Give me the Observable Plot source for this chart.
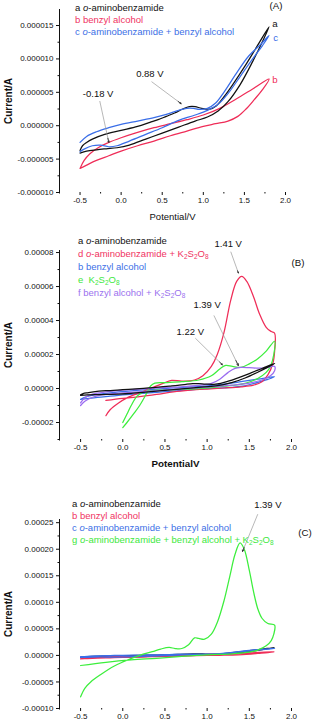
<!DOCTYPE html>
<html><head><meta charset="utf-8">
<script src="https://cdn.jsdelivr.net/npm/d3@7"></script>
<script src="https://cdn.jsdelivr.net/npm/@observablehq/plot@0.6"></script>
<style>
body{margin:0;background:#fff;}
#wrap{position:relative;width:315px;height:728px;overflow:hidden;font-family:"Liberation Sans",Arial,sans-serif;}
.panel{position:absolute;left:0;}
.leg{position:absolute;font-size:9.5px;white-space:nowrap;}
.leg div{height:12px;line-height:12px;}
.leg sub{font-size:6.5px;vertical-align:-1.5px;line-height:0;}
.tag{position:absolute;font-size:9.7px;transform:translate(-50%,-50%);color:#111;}
</style></head>
<body><div id="wrap">
<div class="panel" id="pA" style="top:0"></div>
<div class="panel" id="pB" style="top:232px"></div>
<div class="panel" id="pC" style="top:475px"></div>
<div class="leg" style="left:75px;top:2px">
  <div style="color:#111">a <i>o</i>-aminobenzamide</div>
  <div style="color:#f0335f">b benzyl alcohol</div>
  <div style="color:#3c6fe6">c <i>o</i>-aminobenzamide + benzyl alcohol</div>
</div>
<div class="tag" style="left:276px;top:5px">(A)</div>
<div class="leg" style="left:78px;top:234px">
  <div style="color:#111;height:13px;line-height:13px">a <i>o</i>-aminobenzamide</div>
  <div style="color:#f0335f;height:13px;line-height:13px">d <i>o</i>-aminobenzamide + K<sub>2</sub>S<sub>2</sub>O<sub>8</sub></div>
  <div style="color:#3c6fe6;height:13px;line-height:13px">b benzyl alcohol</div>
  <div style="color:#3ee83e;height:13px;line-height:13px">e&nbsp; K<sub>2</sub>S<sub>2</sub>O<sub>8</sub></div>
  <div style="color:#9b72ee;height:13px;line-height:13px">f benzyl alcohol + K<sub>2</sub>S<sub>2</sub>O<sub>8</sub></div>
</div>
<div class="tag" style="left:298px;top:262px">(B)</div>
<div class="leg" style="left:72px;top:498px">
  <div style="color:#111">a <i>o</i>-aminobenzamide</div>
  <div style="color:#f0335f">b benzyl alcohol</div>
  <div style="color:#3c6fe6">c <i>o</i>-aminobenzamide + benzyl alcohol</div>
  <div style="color:#3ee83e">g <i>o</i>-aminobenzamide + benzyl alcohol + K<sub>2</sub>S<sub>2</sub>O<sub>8</sub></div>
</div>
<div class="tag" style="left:305px;top:532px">(C)</div>
</div>
<script>
// ---- data: [potential V, current µA] along the scan ----
const curveA = [ // o-aminobenzamide
[-0.5,-3.7],[-0.47,-3.0],[-0.42,-2.5],[-0.35,-2.0],[-0.2,-1.3],[0.0,-0.7],[0.2,-0.1],[0.35,0.5],[0.45,0.9],[0.55,1.4],[0.65,1.9],[0.75,2.5],[0.83,2.85],[0.9,2.85],[0.98,2.6],[1.08,2.5],[1.16,3.0],[1.25,4.3],[1.35,6.0],[1.5,8.8],[1.65,11.8],[1.8,14.8],
[1.72,12.6],[1.6,9.6],[1.45,6.2],[1.3,3.6],[1.18,2.2],[1.05,1.3],[0.9,0.7],[0.7,-0.2],[0.5,-1.1],[0.3,-2.0],[0.1,-2.9],[-0.05,-3.3],[-0.18,-3.45],[-0.3,-3.6],[-0.42,-3.8],[-0.5,-4.1]];
const curveB = [ // benzyl alcohol
[-0.5,-6.4],[-0.45,-5.2],[-0.38,-4.2],[-0.28,-3.3],[-0.15,-2.5],[0.0,-1.8],[0.2,-1.0],[0.4,-0.3],[0.6,0.3],[0.8,0.9],[1.0,1.6],[1.2,2.6],[1.4,4.0],[1.6,5.5],[1.8,7.0],
[1.72,5.4],[1.62,3.9],[1.52,2.5],[1.42,1.4],[1.3,0.7],[1.15,0.3],[1.0,-0.1],[0.8,-0.8],[0.6,-1.5],[0.4,-2.3],[0.2,-3.0],[0.0,-3.8],[-0.15,-4.5],[-0.3,-5.2],[-0.42,-5.9],[-0.5,-6.4]];
const curveC = [ // o-aminobenzamide + benzyl alcohol
[-0.5,-2.5],[-0.42,-1.6],[-0.3,-0.9],[-0.15,-0.3],[0.0,0.2],[0.2,0.7],[0.4,1.2],[0.55,1.7],[0.7,2.3],[0.8,2.6],[0.88,2.6],[0.95,2.45],[1.05,2.6],[1.15,3.4],[1.25,5.0],[1.4,7.8],[1.55,10.4],[1.7,12.2],[1.8,13.5],
[1.72,12.0],[1.6,10.0],[1.45,7.4],[1.3,4.8],[1.18,3.2],[1.05,2.3],[0.9,1.6],[0.7,0.8],[0.5,-0.3],[0.3,-1.3],[0.1,-2.3],[-0.05,-3.0],[-0.15,-3.15],[-0.25,-2.9],[-0.35,-3.0],[-0.45,-3.5],[-0.5,-3.9]];
const curveD = [ // o-aminobenzamide + K2S2O8
[-0.2,-16],[-0.15,-12.5],[-0.05,-8.5],[0.05,-5.5],[0.2,-2.5],[0.35,0.5],[0.5,3.5],[0.58,4.8],[0.7,4.3],[0.85,5.0],[0.95,7.5],[1.05,13],[1.12,20],[1.2,33],[1.28,52],[1.35,63],[1.41,66],[1.47,63],[1.55,54],[1.62,44],[1.7,36],[1.76,33.5],[1.8,32.5],
[1.8,22],[1.78,15],[1.72,8],[1.65,4],[1.55,2],[1.4,1.0],[1.2,0.3],[1.0,-0.3],[0.8,-1.0],[0.6,-2.0],[0.4,-3.5],[0.2,-4.8],[0.0,-5.8],[-0.2,-7.0]];
const curveE = [ // K2S2O8
[0.0,-23],[0.05,-20],[0.13,-14.8],[0.2,-10],[0.27,-4],[0.33,1.5],[0.38,3.2],[0.5,3.5],[0.7,4],[0.9,5],[1.05,7.5],[1.15,11.5],[1.22,13.6],[1.3,13.0],[1.4,12.5],[1.5,14.5],[1.6,17.5],[1.7,22],[1.8,27.8],
[1.79,20],[1.75,13],[1.7,9.5],[1.6,5.9],[1.45,3.0],[1.3,1.8],[1.1,0.8],[0.9,0],[0.6,-0.6],[0.4,-1.0],[0.25,-2.0],[0.17,-4.5],[0.1,-10],[0.05,-15],[0.0,-20]];
const curveF = [ // benzyl alcohol + K2S2O8
[-0.5,-8.5],[-0.45,-5.5],[-0.35,-3.2],[-0.2,-2.0],[0.0,-1.0],[0.3,0],[0.6,0.8],[0.9,1.8],[1.05,3.0],[1.15,5.5],[1.25,9.5],[1.33,11.8],[1.4,12.4],[1.5,12.3],[1.6,12.0],[1.7,12.2],[1.8,13.0],
[1.8,10.5],[1.75,7.5],[1.65,5.0],[1.5,3.2],[1.3,2.0],[1.0,0.8],[0.7,-0.2],[0.4,-1.2],[0.1,-2.3],[-0.2,-3.5],[-0.35,-5.0],[-0.45,-7.5],[-0.5,-10.0]];
const curveG = [ // o-aminobenzamide + benzyl alcohol + K2S2O8
[-0.5,-78],[-0.45,-62],[-0.38,-50],[-0.26,-36],[-0.1,-20],[0.0,-12.5],[0.2,0],[0.35,7],[0.45,12],[0.55,15],[0.62,13],[0.7,13],[0.78,20],[0.85,33],[0.9,32],[0.97,30.5],[1.05,40],[1.12,62],[1.2,103],[1.27,150],[1.33,190],[1.39,212],[1.44,200],[1.5,160],[1.55,120],[1.6,88],[1.65,70],[1.72,60],[1.8,57],
[1.79,40],[1.76,28],[1.7,18],[1.6,10],[1.5,6],[1.3,3],[1.0,1],[0.7,-2],[0.4,-5.5],[0.1,-8.5],[-0.2,-13],[-0.5,-19]];

const colors = {a:"#111111", b:"#ef2d58", c:"#3a6ee8", d:"#ef2d58", bB:"#3a6ee8", e:"#3cee3c", f:"#9b6cf0", g:"#3cee3c"};

const xMajor = [-0.5,0,0.5,1,1.5,2];
const xMinor = [-0.75,-0.25,0.25,0.75,1.25,1.75];
const yMajorA = [-10,-5,0,5,10,15], yMinorA = [-7.5,-2.5,2.5,7.5,12.5];
const yMajorB = [-20,0,20,40,60,80], yMinorB = [-30,-10,10,30,50,70];
const yMajorC = [-100,-50,0,50,100,150,200,250], yMinorC = [-75,-25,25,75,125,175,225];

// annotations: [label, textV, textI(µA), arrow startV, startI, tipV, tipI]
const notesA = [["-0.18 V",-0.28,4.8,-0.26,3.7,-0.15,-2.5],["0.88 V",0.35,7.8,0.37,6.6,0.73,3.3]];
const notesB = [["1.41 V",1.25,85,1.28,80.5,1.37,68],["1.39 V",1.0,49,1.08,43,1.37,13.5],["1.22 V",0.8,33,0.86,29.6,1.18,14]];
const notesC = [["1.39 V",1.72,283,1.6,266,1.42,196]];
const endLabelsA = [["a",1.87,15.2,"#111"],["c",1.88,13.1,"#3a6ee8"],["b",1.87,6.9,"#ef2d58"]];

const U = 1e-6;
function panel(o){
  const marks = [
    Plot.ruleX([o.xDomain[0]], {stroke:"#111", strokeWidth:1}),
    Plot.ruleY([o.yDomain[0]], {stroke:"#111", strokeWidth:1}),
    Plot.axisY({ticks:o.yMinor.map(v=>v*U), tickSize:1.5, text:null, label:null}),
    Plot.axisY({ticks:o.yMajor.map(v=>v*U), tickSize:3, tickPadding:3, tickFormat:d=>d.toFixed(o.dec), label:null, fontSize:8}),
    Plot.axisX({ticks:xMinor, tickSize:1.5, text:null, label:null}),
    Plot.axisX({ticks:xMajor, tickSize:3, tickPadding:2, tickFormat:d=>d.toFixed(1), label:null, fontSize:8}),
  ];
  for (const [data,col] of o.curves) {
    marks.push(Plot.line(data, {x:d=>d[0], y:d=>d[1]*U, stroke:col, strokeWidth:1.25, curve:"catmull-rom"}));
  }
  // thin grey leader lines with a dark head near the tip
  marks.push(Plot.link(o.notes, {x1:d=>d[3], y1:d=>d[4]*U, x2:d=>d[5], y2:d=>d[6]*U, stroke:"#999", strokeWidth:0.7}));
  marks.push(Plot.arrow(o.notes, {x1:d=>d[5]+(d[3]-d[5])*0.1, y1:d=>(d[6]+(d[4]-d[6])*0.1)*U, x2:d=>d[5], y2:d=>d[6]*U, stroke:"#222", strokeWidth:0.8, headLength:4}));
  marks.push(Plot.text(o.notes, {x:d=>d[1], y:d=>d[2]*U, text:d=>d[0], fontSize:9.5, fill:"#111"}));
  if (o.ends) marks.push(Plot.text(o.ends, {x:d=>d[1], y:d=>d[2]*U, text:d=>d[0], fill:d=>d[3], fontSize:9.7}));
  marks.push(Plot.text(["Current/A"], {frameAnchor:"left", dx:-51, rotate:-90, text:d=>d, textAnchor:"middle", lineAnchor:"middle", fontWeight:"bold", fontSize:10}));
  if (o.xLabel) marks.push(Plot.text([o.xLabel], {frameAnchor:"bottom", dy:24, text:d=>d, textAnchor:"middle", lineAnchor:"middle", fontWeight:o.xBold?"bold":"normal", fontSize:o.xBold?9.8:9.5}));
  return Plot.plot({
    width:315, height:o.height, marginLeft:59, marginRight:o.marginRight, marginTop:o.marginTop, marginBottom:o.marginBottom,
    x:{domain:[-0.75,2.0], axis:null}, y:{domain:o.yDomain.map(v=>v*U), axis:null},
    style:{fontFamily:'"Liberation Sans",Arial,sans-serif', fontSize:"8px", color:"#111", background:"transparent", overflow:"visible"},
    marks
  });
}
document.getElementById("pA").append(panel({height:232, marginTop:9, marginBottom:40, marginRight:30, xDomain:[-0.75,2], yDomain:[-10,17.4], yMajor:yMajorA, yMinor:yMinorA, dec:6,
  curves:[[curveB,colors.b],[curveA,colors.a],[curveC,colors.c]], notes:notesA, ends:endLabelsA, xLabel:"Potential/V", xBold:false}));
document.getElementById("pB").append(panel({height:243, marginTop:18, marginBottom:36, marginRight:24, xDomain:[-0.75,2], yDomain:[-30,81.2], yMajor:yMajorB, yMinor:yMinorB, dec:5,
  curves:[[curveB,colors.bB],[curveD,colors.d],[curveE,colors.e],[curveF,colors.f],[curveA,colors.a]], notes:notesB, xLabel:"PotentialV", xBold:true}));
document.getElementById("pC").append(panel({height:253, marginTop:44, marginBottom:20, marginRight:24, xDomain:[-0.75,2], yDomain:[-100,256], yMajor:yMajorC, yMinor:yMinorC, dec:5,
  curves:[[curveA,colors.a],[curveB,colors.b],[curveC,colors.c],[curveG,colors.g]], notes:notesC, xLabel:null}));
</script>
</body></html>
